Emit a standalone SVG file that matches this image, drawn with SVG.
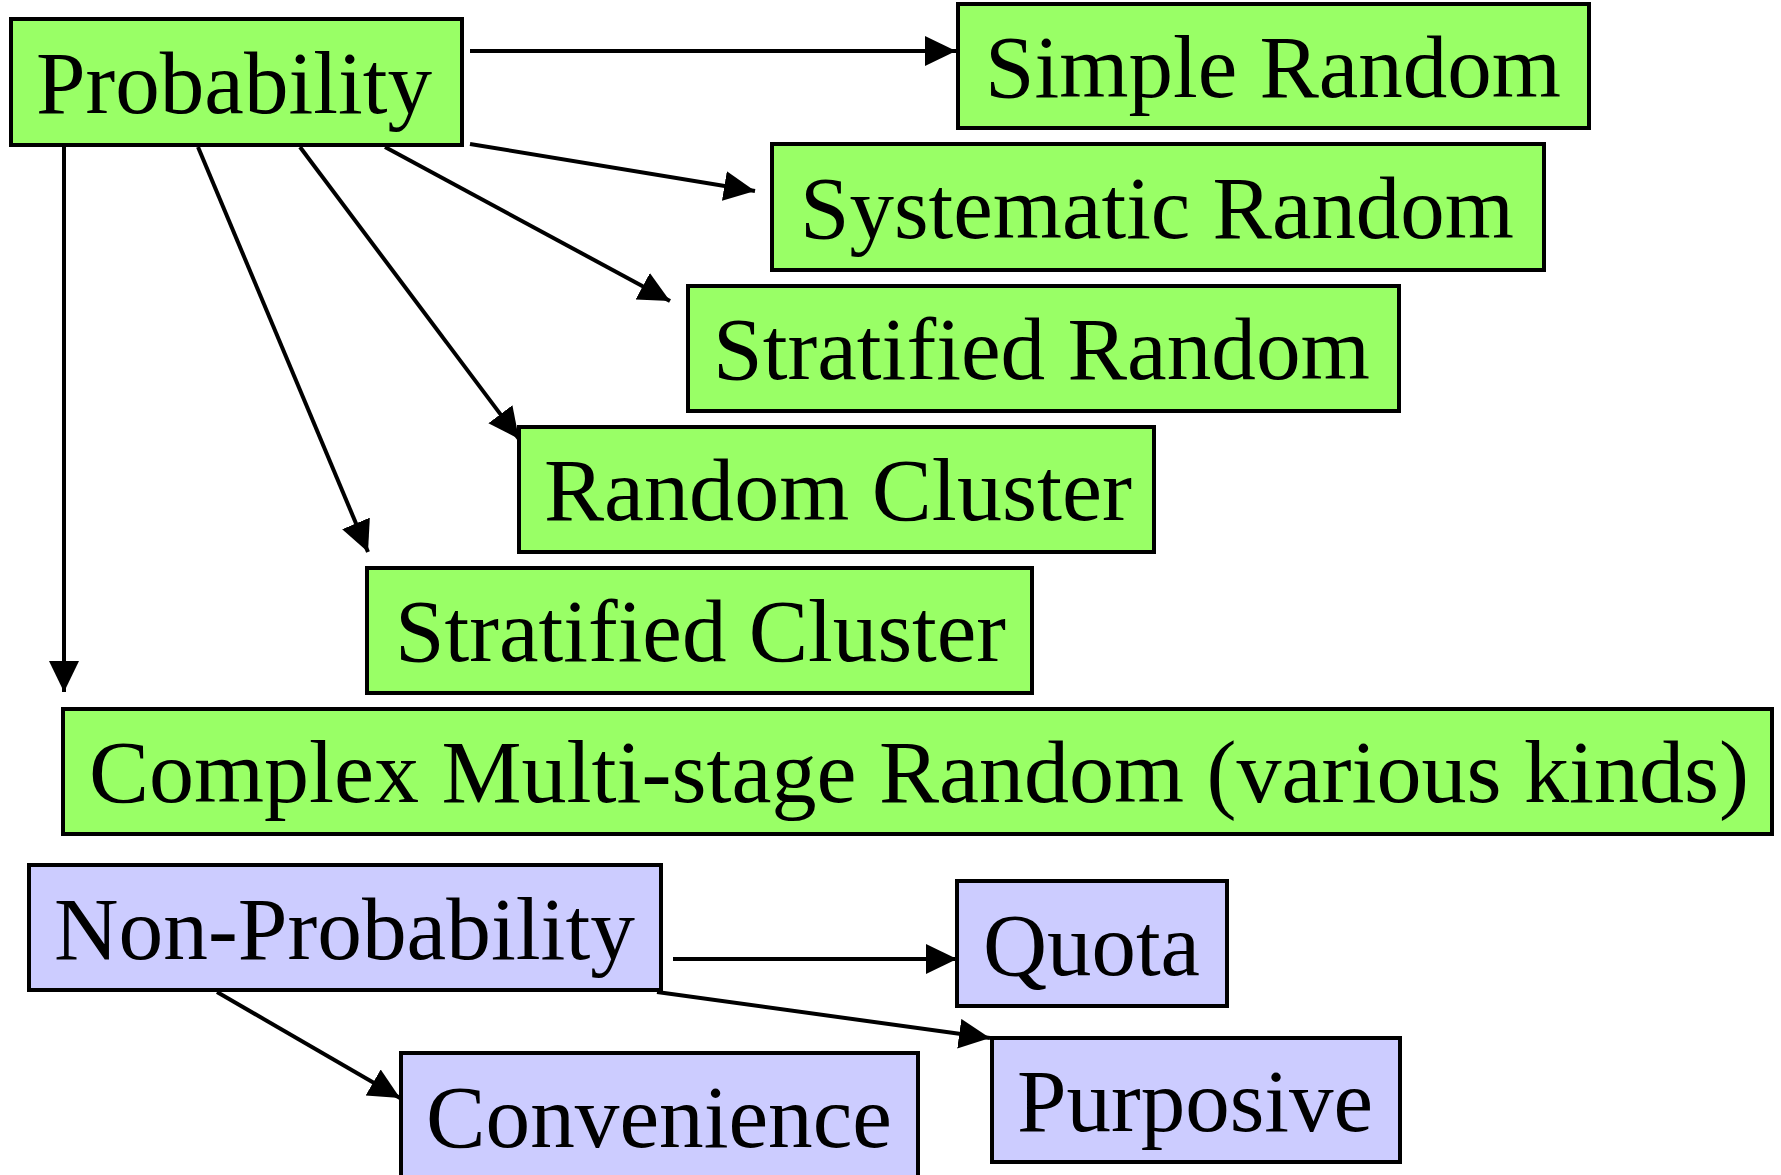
<svg xmlns="http://www.w3.org/2000/svg" width="1781" height="1175" viewBox="0 0 1781 1175">
<style>
.box{stroke:#000;stroke-width:4}
.g{fill:#99FF66}
.p{fill:#CCCCFF}
.t{font-family:"Liberation Serif","Times New Roman",serif;font-size:89px;fill:#000}
.c{stroke:#000;stroke-width:4;fill:none;marker-end:url(#ah)}
</style>
<defs>
<marker id="ah" markerUnits="userSpaceOnUse" markerWidth="34" markerHeight="32" refX="31" refY="15" orient="auto">
<path d="M0,0 L31,15 L0,30 Z" fill="#000"/>
</marker>
</defs>
<rect width="1781" height="1175" fill="#fff"/>
<g id="connectors">
<line class="c" x1="470" y1="51" x2="956" y2="51"/>
<line class="c" x1="470" y1="144" x2="755" y2="191"/>
<line class="c" x1="385" y1="147" x2="670" y2="301"/>
<line class="c" x1="300" y1="147" x2="519" y2="439"/>
<line class="c" x1="198" y1="147" x2="368" y2="552"/>
<line class="c" x1="64" y1="145" x2="64" y2="692"/>
<line class="c" x1="673" y1="959" x2="957" y2="959"/>
<line class="c" x1="657" y1="992" x2="990" y2="1038"/>
<line class="c" x1="217" y1="992" x2="400" y2="1098"/>
</g>
<g id="probability"><rect class="box g" x="11" y="19" width="451" height="126"/><text class="t" x="36" y="113" textLength="396" lengthAdjust="spacingAndGlyphs">Probability</text></g>
<g id="simple-random"><rect class="box g" x="958" y="4" width="631" height="124"/><text class="t" x="985" y="97" textLength="576" lengthAdjust="spacingAndGlyphs">Simple Random</text></g>
<g id="systematic-random"><rect class="box g" x="772" y="144" width="772" height="126"/><text class="t" x="800" y="238" textLength="714" lengthAdjust="spacingAndGlyphs">Systematic Random</text></g>
<g id="stratified-random"><rect class="box g" x="688" y="286" width="711" height="125"/><text class="t" x="713" y="379" textLength="657" lengthAdjust="spacingAndGlyphs">Stratified Random</text></g>
<g id="random-cluster"><rect class="box g" x="519" y="427" width="635" height="125"/><text class="t" x="544" y="520" textLength="588" lengthAdjust="spacingAndGlyphs">Random Cluster</text></g>
<g id="stratified-cluster"><rect class="box g" x="367" y="568" width="665" height="125"/><text class="t" x="395" y="661" textLength="611" lengthAdjust="spacingAndGlyphs">Stratified Cluster</text></g>
<g id="complex-multistage"><rect class="box g" x="63" y="709" width="1709" height="125"/><text class="t" x="89" y="802" textLength="1660" lengthAdjust="spacingAndGlyphs">Complex Multi-stage Random (various kinds)</text></g>
<g id="non-probability"><rect class="box p" x="29" y="865" width="632" height="125"/><text class="t" x="54" y="959" textLength="581" lengthAdjust="spacingAndGlyphs">Non-Probability</text></g>
<g id="quota"><rect class="box p" x="957" y="881" width="270" height="125"/><text class="t" x="983" y="975" textLength="217" lengthAdjust="spacingAndGlyphs">Quota</text></g>
<g id="purposive"><rect class="box p" x="992" y="1038" width="408" height="124"/><text class="t" x="1017" y="1131" textLength="356" lengthAdjust="spacingAndGlyphs">Purposive</text></g>
<g id="convenience"><rect class="box p" x="401" y="1053" width="517" height="126"/><text class="t" x="426" y="1147" textLength="466" lengthAdjust="spacingAndGlyphs">Convenience</text></g>
</svg>
